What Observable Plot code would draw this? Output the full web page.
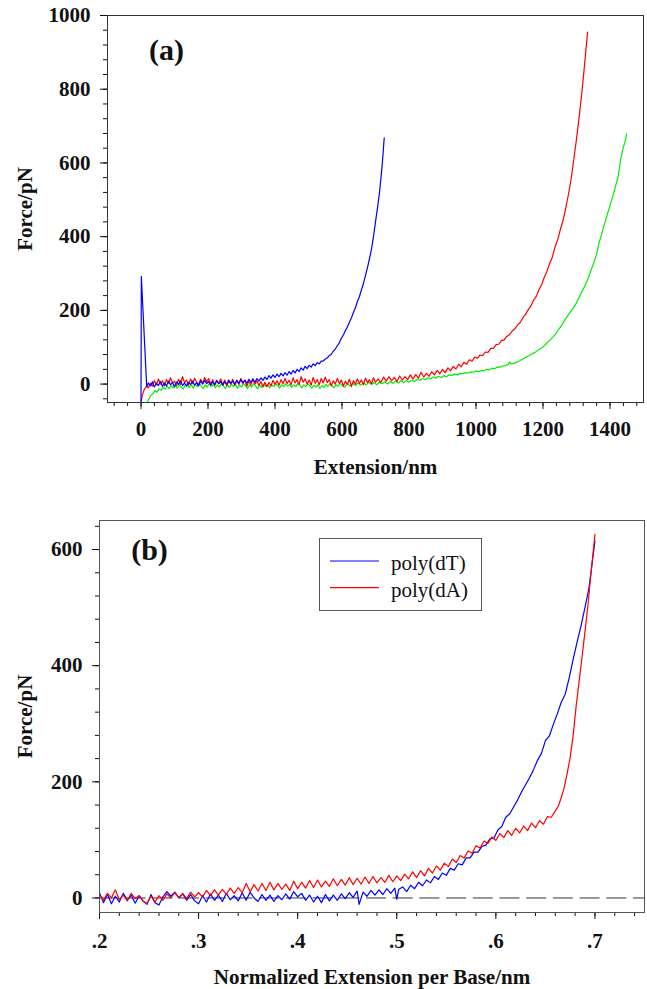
<!DOCTYPE html>
<html><head><meta charset="utf-8">
<script src="https://cdn.jsdelivr.net/npm/d3@7"></script>
<script src="https://cdn.jsdelivr.net/npm/@observablehq/plot@0.6"></script>
<style>
html,body{margin:0;padding:0;background:#fff;}
#wrap{position:relative;width:647px;height:989px;overflow:hidden;background:#fff;}
#wrap svg{display:block;font-family:'Liberation Serif','Times New Roman',Times,serif !important;}
#wrap svg text{font-family:'Liberation Serif','Times New Roman',Times,serif !important;}
#legend{position:absolute;left:319px;top:538px;}
</style></head><body><div id="wrap"></div>
<script>
// ---------- Panel (a) data: [extension nm, force pN] ----------
const aXTicks = [0, 200, 400, 600, 800, 1000, 1200, 1400];
const aYTicks = [0, 200, 400, 600, 800, 1000];
const aBlue = [
[0,-50],[1,292],[17,-7],[22,3],[28,-5],[34,6],[40,-8],[46,2],[52,-4],[58,7],[64,-6],[70,3],[76,-5],[82,8],[88,-2],[94,4],[100,-7],[106,6],[112,-1],[118,9],[124,-4],[130,3],[136,-6],[142,5],[148,-1],[154,8],[160,-3],[166,4],[172,-5],[178,9],[184,0],[190,10],[196,1],[202,7],[208,-3],[214,6],[220,-1],[226,10],[232,1],[238,7],[244,-3],[250,6],[256,0],[262,11],[268,2],[274,8],[280,-1],[286,10],[292,2],[298,12],[304,3],[310,10],[316,2],[322,13],[328,5],[334,14],[340,5],[346,15],[352,8],[358,17],[364,10],[370,19],[376,12],[382,23],[388,16],[394,25],[400,18],[406,27],[412,20],[418,29],[424,22],[430,31],[436,24],[442,34],[448,27],[454,37],[460,30],[466,40],[472,34],[478,44],[484,38],[490,48],[496,42],[502,51],[508,46],[514,55],[520,50],[526,58],[532,55],[538,62],[544,62],[550,68],[556,71],[562,77],[568,81],[574,89],[580,95],[586,104],[592,112],[598,124],[604,133],[610,145],[616,155],[622,168],[628,179],[634,194],[640,207],[646,224],[652,237],[658,256],[664,273],[670,294],[676,316],[682,340],[688,366],[694,400],[700,440],[706,478],[712,520],[718,575],[722,618],[726,668]
];
const aRed = [
[0,-50],[4,-30],[10,-14],[16,-6],[22,-10],[28,2],[34,-6],[40,10],[46,-2],[52,14],[58,0],[64,9],[70,-5],[76,12],[82,2],[88,17],[94,3],[100,8],[106,-4],[112,13],[118,-1],[124,20],[130,4],[136,11],[142,-3],[148,14],[154,1],[160,16],[166,5],[172,-2],[178,13],[184,2],[190,18],[196,6],[202,15],[208,0],[214,12],[220,-4],[226,9],[232,1],[238,14],[244,-2],[250,11],[256,-5],[262,8],[268,0],[274,13],[280,-3],[286,10],[292,-1],[298,15],[304,2],[310,11],[316,-6],[322,8],[328,-2],[334,13],[340,0],[346,9],[352,-4],[358,7],[364,-8],[370,5],[376,-7],[382,4],[388,-5],[394,10],[400,-1],[406,9],[412,-3],[418,12],[424,1],[430,15],[436,2],[442,10],[448,-2],[454,17],[460,3],[466,12],[472,-1],[478,20],[484,5],[490,14],[496,0],[502,11],[508,-3],[514,18],[520,2],[526,12],[532,-2],[538,15],[544,3],[550,19],[556,4],[562,12],[568,-5],[574,9],[580,0],[586,15],[592,2],[598,11],[604,-6],[610,8],[616,-1],[622,13],[628,-7],[634,9],[640,0],[646,14],[652,2],[658,11],[664,-2],[670,16],[676,4],[682,12],[688,1],[694,17],[700,5],[708,14],[716,4],[724,19],[732,8],[740,20],[748,9],[756,18],[764,7],[772,22],[780,11],[788,20],[796,12],[804,25],[812,14],[820,26],[828,16],[836,32],[844,19],[852,29],[860,21],[868,34],[876,25],[884,37],[892,28],[900,40],[908,31],[916,44],[924,36],[932,48],[940,41],[948,54],[956,47],[964,59],[972,54],[980,66],[988,62],[996,73],[1004,70],[1012,79],[1020,77],[1028,87],[1036,86],[1044,97],[1052,97],[1060,107],[1068,108],[1076,118],[1084,120],[1092,130],[1100,134],[1108,144],[1116,150],[1124,160],[1132,167],[1140,180],[1148,189],[1156,202],[1164,212],[1172,228],[1180,238],[1188,256],[1196,270],[1204,290],[1212,306],[1220,328],[1228,345],[1236,372],[1244,392],[1252,420],[1260,445],[1268,478],[1276,515],[1284,556],[1292,610],[1300,665],[1308,725],[1316,790],[1324,866],[1333,955]
];
const aGreen = [
[18,-50],[24,-40],[30,-30],[36,-26],[42,-18],[48,-22],[54,-13],[60,-17],[66,-9],[72,-14],[78,-6],[84,-12],[90,-4],[96,-10],[102,-3],[108,-11],[114,-2],[120,-8],[126,-13],[132,-3],[138,1],[144,-9],[150,-2],[156,-11],[162,-1],[168,-7],[174,2],[180,-6],[186,-12],[192,-2],[198,-8],[204,1],[210,-7],[216,-1],[222,-10],[228,-3],[234,-8],[240,2],[246,-5],[252,-12],[258,-2],[264,-9],[270,0],[276,-6],[282,-1],[288,-11],[294,-3],[300,-8],[306,1],[312,-4],[318,-12],[324,-2],[330,-8],[336,1],[342,-5],[348,-13],[354,-3],[360,-9],[366,0],[372,-6],[378,-1],[384,-10],[390,-2],[396,-7],[402,2],[408,-4],[414,-11],[420,-2],[426,-7],[432,1],[438,-5],[444,-1],[450,-9],[456,-2],[462,-7],[468,2],[474,-4],[480,-10],[486,-2],[492,-7],[498,1],[504,-5],[510,-11],[516,-3],[522,-8],[528,-2],[534,-12],[540,-4],[546,-9],[552,-1],[558,-6],[564,1],[570,-5],[576,-10],[582,-2],[588,-6],[594,2],[600,-3],[608,-8],[616,1],[624,-5],[632,2],[640,-4],[648,3],[656,-3],[664,4],[672,-2],[680,5],[688,-1],[696,4],[704,-2],[712,5],[720,1],[728,6],[736,0],[744,7],[752,2],[760,8],[768,3],[776,9],[784,4],[792,10],[800,5],[808,11],[816,7],[824,13],[832,10],[840,15],[848,12],[856,17],[864,14],[872,19],[880,16],[888,21],[896,18],[904,23],[912,20],[920,25],[928,23],[936,27],[944,25],[952,29],[960,28],[968,31],[976,30],[984,33],[992,32],[1000,35],[1008,33],[1016,37],[1024,36],[1032,40],[1040,39],[1048,43],[1056,42],[1064,46],[1072,46],[1080,49],[1088,50],[1096,53],[1100,60],[1104,55],[1112,56],[1120,59],[1128,62],[1136,66],[1144,70],[1152,74],[1160,78],[1168,82],[1176,86],[1184,91],[1192,96],[1200,101],[1208,108],[1216,115],[1224,122],[1232,130],[1240,139],[1248,150],[1256,160],[1264,172],[1272,183],[1280,194],[1288,203],[1296,214],[1304,228],[1312,243],[1320,258],[1328,272],[1336,290],[1344,310],[1352,330],[1360,352],[1368,385],[1376,410],[1384,436],[1392,460],[1400,485],[1408,508],[1416,535],[1424,562],[1432,610],[1438,636],[1444,655],[1450,679]
];

// ---------- Panel (b) data: [normalized extension per base nm, force pN] ----------
const bXTicks = [0.2, 0.3, 0.4, 0.5, 0.6, 0.7];
const bYTicks = [0, 200, 400, 600];
const bSeriesNames = ["poly(dT)", "poly(dA)"];
const bBlue = [
[0.200,9],[0.204,-8],[0.208,6],[0.212,-10],[0.216,3],[0.220,-7],[0.224,8],[0.228,-4],[0.232,5],[0.236,-9],[0.240,4],[0.244,-5],[0.248,-11],[0.252,6],[0.256,-8],[0.260,-12],[0.264,2],[0.268,11],[0.272,3],[0.276,10],[0.280,0],[0.284,7],[0.288,-4],[0.292,6],[0.296,-5],[0.300,-10],[0.304,4],[0.308,-7],[0.312,7],[0.316,-4],[0.320,5],[0.324,-6],[0.328,8],[0.332,-3],[0.336,4],[0.340,-5],[0.344,9],[0.348,-4],[0.352,10],[0.356,0],[0.360,-6],[0.364,6],[0.368,-4],[0.372,5],[0.376,-6],[0.380,4],[0.384,-3],[0.388,7],[0.392,-2],[0.396,11],[0.400,2],[0.404,8],[0.408,-4],[0.412,5],[0.416,-7],[0.420,3],[0.424,-8],[0.428,6],[0.432,-5],[0.436,5],[0.440,-4],[0.444,7],[0.448,-1],[0.452,9],[0.456,1],[0.460,12],[0.462,-11],[0.466,10],[0.470,3],[0.474,13],[0.478,5],[0.482,14],[0.486,6],[0.490,16],[0.494,8],[0.498,17],[0.500,-2],[0.502,15],[0.506,19],[0.510,11],[0.514,22],[0.518,16],[0.522,27],[0.526,21],[0.530,31],[0.534,26],[0.538,37],[0.542,32],[0.546,43],[0.550,39],[0.554,51],[0.558,48],[0.562,59],[0.566,57],[0.570,69],[0.574,69],[0.578,79],[0.582,79],[0.586,89],[0.590,91],[0.594,102],[0.598,103],[0.602,117],[0.606,123],[0.610,139],[0.614,145],[0.618,157],[0.622,169],[0.626,183],[0.630,195],[0.634,207],[0.638,221],[0.642,237],[0.646,249],[0.650,271],[0.654,279],[0.658,299],[0.662,317],[0.666,337],[0.670,351],[0.674,379],[0.678,411],[0.682,441],[0.686,469],[0.690,501],[0.694,534],[0.697,574],[0.700,615]
];
const bRed = [
[0.200,6],[0.204,-4],[0.208,8],[0.212,0],[0.216,14],[0.220,-3],[0.224,5],[0.228,-5],[0.232,8],[0.236,-1],[0.240,4],[0.244,-6],[0.248,-9],[0.252,3],[0.256,-7],[0.260,4],[0.264,-4],[0.268,7],[0.272,0],[0.276,9],[0.280,1],[0.284,8],[0.288,-1],[0.292,10],[0.296,2],[0.300,9],[0.304,2],[0.308,13],[0.312,4],[0.316,14],[0.320,5],[0.324,15],[0.328,6],[0.332,17],[0.336,8],[0.340,18],[0.344,9],[0.348,25],[0.352,11],[0.356,23],[0.360,12],[0.364,25],[0.368,13],[0.372,27],[0.376,14],[0.380,25],[0.384,15],[0.388,24],[0.392,13],[0.396,29],[0.400,16],[0.404,27],[0.408,17],[0.412,30],[0.416,18],[0.420,31],[0.424,19],[0.428,29],[0.432,20],[0.436,33],[0.440,21],[0.444,32],[0.448,22],[0.452,35],[0.456,23],[0.460,34],[0.464,24],[0.468,36],[0.472,25],[0.476,37],[0.480,26],[0.484,35],[0.488,27],[0.492,39],[0.496,28],[0.500,38],[0.504,30],[0.508,41],[0.512,33],[0.516,45],[0.520,35],[0.524,47],[0.528,38],[0.532,51],[0.536,43],[0.540,55],[0.544,48],[0.548,60],[0.552,54],[0.556,67],[0.560,61],[0.564,73],[0.568,69],[0.572,81],[0.576,77],[0.580,90],[0.584,86],[0.588,98],[0.592,94],[0.596,105],[0.600,99],[0.604,111],[0.608,104],[0.612,116],[0.616,108],[0.620,120],[0.624,112],[0.628,124],[0.632,116],[0.636,129],[0.640,121],[0.644,133],[0.648,127],[0.652,140],[0.656,139],[0.660,150],[0.663,158],[0.666,173],[0.669,190],[0.672,215],[0.675,242],[0.678,280],[0.681,330],[0.684,372],[0.687,415],[0.690,460],[0.693,505],[0.696,560],[0.698,592],[0.700,626]
];

const FONT = "'Liberation Serif','Times New Roman',Times,serif";
const BLUE = "#0000ff", RED = "#ff0000", GREEN = "#00ee00";
const px = d => d[0], py = d => d[1];

const chartA = Plot.plot({
  width: 647, height: 490,
  marginLeft: 107, marginRight: 4, marginTop: 15, marginBottom: 88,
  style: {fontFamily: FONT, fontSize: "21px", fontWeight: "bold", color: "#111", background: "white"},
  x: {domain: [-100, 1500]},
  y: {domain: [-50, 1000]},
  marks: [
    Plot.axisX({ticks: d3.range(-80, 1500, 40), tickSize: 4, tickFormat: () => "", label: null}),
    Plot.axisX({ticks: aXTicks, tickSize: 7, tickPadding: 12, label: null, tickFormat: d => String(d)}),
    Plot.axisY({ticks: d3.range(-40, 1001, 40), tickSize: 4, tickFormat: () => "", label: null}),
    Plot.axisY({ticks: aYTicks, tickSize: 7, tickPadding: 10, label: null, tickFormat: d => String(d)}),
    Plot.line(aGreen, {x: px, y: py, stroke: GREEN, strokeWidth: 1.2}),
    Plot.line(aRed, {x: px, y: py, stroke: RED, strokeWidth: 1.2}),
    Plot.line(aBlue, {x: px, y: py, stroke: BLUE, strokeWidth: 1.2}),
    Plot.frame({stroke: "#333"}),
    Plot.text(["(a)"], {text: d => d, frameAnchor: "top-left", dx: 59, dy: 35, fontSize: 30, textAnchor: "middle", lineAnchor: "middle"}),
    Plot.text(["Force/pN"], {text: d => d, frameAnchor: "left", dx: -82, rotate: -90, textAnchor: "middle", lineAnchor: "middle"}),
    Plot.text(["Extension/nm"], {text: d => d, frameAnchor: "bottom", dy: 65, textAnchor: "middle", lineAnchor: "middle"})
  ]
});

const chartB = Plot.plot({
  width: 647, height: 499,
  marginLeft: 99, marginRight: 3, marginTop: 30, marginBottom: 77,
  style: {fontFamily: FONT, fontSize: "21px", fontWeight: "bold", color: "#111", background: "white"},
  x: {domain: [0.2, 0.75]},
  y: {domain: [-25, 650]},
  marks: [
    Plot.axisX({ticks: d3.range(0.2, 0.75, 0.02), tickSize: 4, tickFormat: () => "", label: null}),
    Plot.axisX({ticks: bXTicks, tickSize: 7, tickPadding: 14, label: null, tickFormat: d => d.toFixed(1).replace(/^0/, "")}),
    Plot.axisY({ticks: d3.range(0, 650, 40), tickSize: 4, tickFormat: () => "", label: null}),
    Plot.axisY({ticks: bYTicks, tickSize: 7, tickPadding: 10, label: null, tickFormat: d => String(d)}),
    Plot.ruleY([0], {stroke: "#333", strokeWidth: 1, strokeDasharray: "20,6.7"}),
    Plot.line(bBlue, {x: px, y: py, stroke: BLUE, strokeWidth: 1.2}),
    Plot.line(bRed, {x: px, y: py, stroke: RED, strokeWidth: 1.2}),
    Plot.frame({stroke: "#555"}),
    Plot.text(["(b)"], {text: d => d, frameAnchor: "top-left", dx: 50, dy: 30, fontSize: 30, textAnchor: "middle", lineAnchor: "middle"}),
    Plot.text(["Force/pN"], {text: d => d, frameAnchor: "left", dx: -74, rotate: -90, textAnchor: "middle", lineAnchor: "middle"}),
    Plot.text(["Normalized Extension per Base/nm"], {text: d => d, frameAnchor: "bottom", dy: 71, textAnchor: "middle", lineAnchor: "bottom"})
  ]
});

const wrap = document.getElementById("wrap");
wrap.appendChild(chartA);
wrap.appendChild(chartB);

// legend for panel (b)
const legendColors = [BLUE, RED];
const leg = d3.select(wrap).append("svg").attr("id", "legend")
  .attr("width", 164).attr("height", 74);
leg.append("rect").attr("x", 0.5).attr("y", 0.5).attr("width", 162).attr("height", 72)
  .attr("fill", "white").attr("stroke", "#555").attr("stroke-width", 1);
bSeriesNames.forEach((name, i) => {
  const y = 23 + i * 26.7;
  leg.append("line").attr("x1", 11).attr("x2", 60).attr("y1", y).attr("y2", y)
    .attr("stroke", legendColors[i]).attr("stroke-width", 1.2);
  leg.append("text").attr("x", 72).attr("y", y + 9).text(name)
    .style("font-size", "21px").style("font-weight", "normal").attr("fill", "#111");
});
</script></body></html>
